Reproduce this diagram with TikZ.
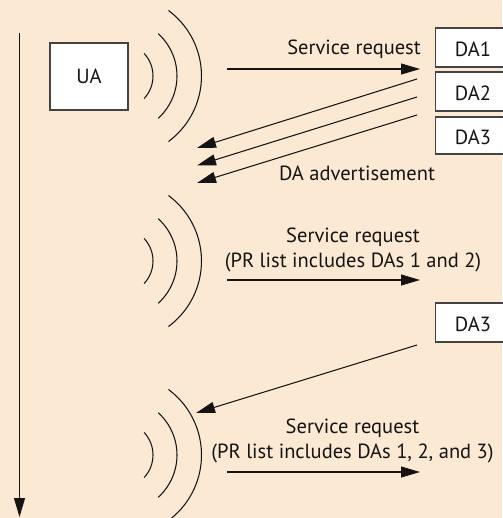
\documentclass[tikz,border=0pt]{standalone}
\usepackage{fontspec}
\setmainfont{PT Sans}
\usetikzlibrary{arrows.meta,calc}
\definecolor{paper}{RGB}{251,233,211}
\definecolor{ink}{RGB}{20,20,20}
\tikzset{
  msg/.style={draw=ink, line width=1.05pt, -{Triangle[length=19pt,width=11pt]}},
  wave/.style={draw=ink, line width=1.05pt},
  box/.style={draw=ink!80, fill=white, line width=1.1pt, inner sep=0pt},
  lbl/.style={font=\fontsize{20.5}{25}\selectfont, text=ink, inner sep=0pt},
}
% three concentric radio-wave arcs centred on #1
\newcommand{\waves}[1]{%
  \draw[wave] ($#1+(-43:33)$) arc[start angle=-43, end angle=43, radius=33];
  \draw[wave] ($#1+(-48:57)$) arc[start angle=-48, end angle=48, radius=57];
  \draw[wave] ($#1+(-53.5:81.5)$) arc[start angle=-53.5, end angle=53.5, radius=81.5];
}
\begin{document}
\begin{tikzpicture}[x=1pt, y=-1pt]
\fill[paper] (0,0) rectangle (502,518);
\useasboundingbox (0,0) rectangle (502,518);

% time axis
\coordinate (t0) at (19.5,33);
\coordinate (t1) at (19.5,517);
\draw[msg] (t0) -- (t1);

% user agent
\node[box, minimum width=78pt, minimum height=67pt, lbl] (ua) at (89,76.5) {UA};

% directory agents (running off the right edge)
\node[box, minimum width=72pt, minimum height=39pt, anchor=west] (da1) at (435,47.5) {};
\node[box, minimum width=72pt, minimum height=39pt, anchor=west] (da2) at (435,91.5) {};
\node[box, minimum width=72pt, minimum height=37pt, anchor=west] (da3) at (435,135.5) {};
\node[box, minimum width=72pt, minimum height=39pt, anchor=west] (da3b) at (435,322.5) {};
\node[lbl] (da1t) at (473,49) {DA1};
\node[lbl] (da2t) at (473,93) {DA2};
\node[lbl] (da3t) at (473,137) {DA3};
\node[lbl] (da3bt) at (473,324) {DA3};

% radio waves
\waves{(120,76)}
\waves{(120,261)}
\waves{(120,455)}

% first request and advertisements
\coordinate (r1a) at (227,69);
\coordinate (r1b) at (420,69);
\draw[msg] (r1a) -- (r1b);
\node[lbl, anchor=east] (r1l) at (421,49) {Service request};

\coordinate (a1s) at (417,79);  \coordinate (a1e) at (197,148);
\coordinate (a2s) at (417,97);  \coordinate (a2e) at (197,165.5);
\coordinate (a3s) at (417,115); \coordinate (a3e) at (197,183);
\draw[msg] (a1s) -- (a1e);
\draw[msg] (a2s) -- (a2e);
\draw[msg] (a3s) -- (a3e);
\node[lbl] (advl) at (357,173) {DA advertisement};

% second request
\node[lbl, align=center] (r2l) at (353,249.5) {Service request\\(PR list includes DAs 1 and 2)};
\coordinate (r2a) at (227,280);
\coordinate (r2b) at (420,280);
\draw[msg] (r2a) -- (r2b);

% late advertisement from DA3
\coordinate (a4s) at (417,345);
\coordinate (a4e) at (196,413);
\draw[msg] (a4s) -- (a4e);

% third request
\node[lbl, align=center] (r3l) at (352.5,441) {Service request\\(PR list includes DAs 1, 2, and 3)};
\coordinate (r3a) at (227,472);
\coordinate (r3b) at (420,472);
\draw[msg] (r3a) -- (r3b);
\end{tikzpicture}
\end{document}
